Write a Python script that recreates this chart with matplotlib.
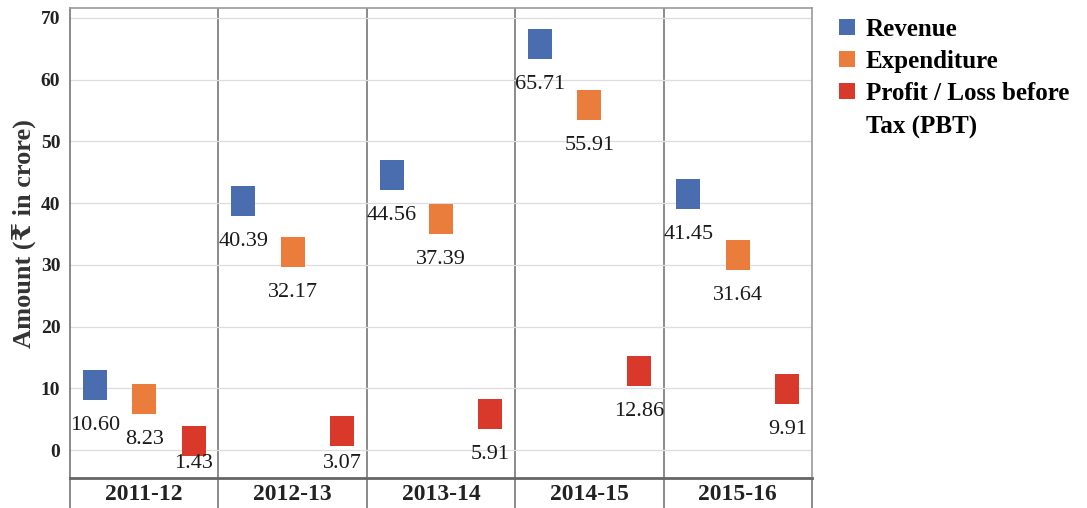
import matplotlib
matplotlib.use("Agg")
import matplotlib.pyplot as plt
import numpy as np

years = ["2011-12", "2012-13", "2013-14", "2014-15", "2015-16"]
revenue = [10.60, 40.39, 44.56, 65.71, 41.45]
expenditure = [8.23, 32.17, 37.39, 55.91, 31.64]
pbt = [1.43, 3.07, 5.91, 12.86, 9.91]
series_names = ["Revenue", "Expenditure", "Profit / Loss before"]
legend_extra = "Tax (PBT)"
colors = ["#4a6db0", "#ea7d3c", "#d8392b"]
y_ticks = [0, 10, 20, 30, 40, 50, 60, 70]

SERIF = ["Liberation Serif", "DejaVu Serif", "DejaVu Sans"]
plt.rcParams["font.family"] = SERIF

fig = plt.figure(figsize=(10.87, 5.08), dpi=100)
ax = fig.add_axes([70/1087, 30/508, 742/1087, 470/508])

ax.set_xlim(-0.5, len(years) - 0.5)
ax.set_ylim(-4.5, 71.6)

rect = [(-4, -5), (4, -5), (4, 5), (-4, 5), (-4, -5)]
offsets = [-1/3, 0, 1/3]
x = np.arange(len(years))
axis_bottom_px = ax.transData.transform((0, ax.get_ylim()[0]))[1]
for vals, off, col, name in zip([revenue, expenditure, pbt], offsets, colors, series_names):
    xs = x + off
    ax.plot(xs, vals, linestyle="none", marker=rect, markersize=21.6,
            color=col, markeredgewidth=0, label=name, zorder=3)
    for xi, v in zip(xs, vals):
        cy = ax.transData.transform((xi, v))[1]
        dy = -45
        if cy + dy < axis_bottom_px + 10:
            dy = axis_bottom_px + 10 - cy
        ax.annotate(f"{v:.2f}", (xi, v), xytext=(0, dy), textcoords="offset pixels",
                    ha="center", va="baseline", fontsize=16, color="#1a1a1a", zorder=4)

ax.set_yticks(y_ticks)
ax.set_yticklabels([str(t) for t in y_ticks], fontsize=14, fontweight="bold", color="#222222")
ax.set_xticks(x)
ax.set_xticklabels(years, fontsize=17, fontweight="bold", color="#222222")
ax.set_xticks(np.arange(-0.5, len(years)), minor=True)
ax.tick_params(axis="x", which="major", length=0, pad=4)
ax.tick_params(axis="x", which="minor", length=22, width=1.2, color="#777777")
ax.tick_params(axis="y", length=0, pad=7)

ax.grid(axis="y", color="#dddddd", linewidth=0.9, zorder=0)
for b in np.arange(0.5, len(years) - 0.5):
    ax.axvline(b, color="#777777", linewidth=1.2, zorder=1)
for s in ["top", "right"]:
    ax.spines[s].set_color("#999999")
    ax.spines[s].set_linewidth(1.2)
ax.spines["left"].set_color("#777777")
ax.spines["left"].set_linewidth(1.2)
ax.spines["bottom"].set_color("#666666")
ax.spines["bottom"].set_linewidth(2)

ax.set_ylabel("Amount (₹ in crore)", fontsize=19, fontweight="bold", color="#333333", labelpad=3)
ax.yaxis.label.set_y(0.52)

leg = ax.legend(loc="upper left", bbox_to_anchor=(826/1087, 1 - 8/508), bbox_transform=fig.transFigure,
                frameon=False, prop={"weight": "bold", "size": 18},
                handletextpad=0.3, labelspacing=0.36, handlelength=0.9, borderaxespad=0)
for h in leg.legend_handles:
    h.set_marker("s")
    h.set_markersize(11)

fig.canvas.draw()
bb = leg.get_texts()[2].get_window_extent()
fig.text(bb.x0 / fig.bbox.width, (bb.y0 - 34) / fig.bbox.height, legend_extra,
         fontsize=18, fontweight="bold", color="#000000", ha="left", va="bottom")

fig.savefig("out.png", dpi=100)
